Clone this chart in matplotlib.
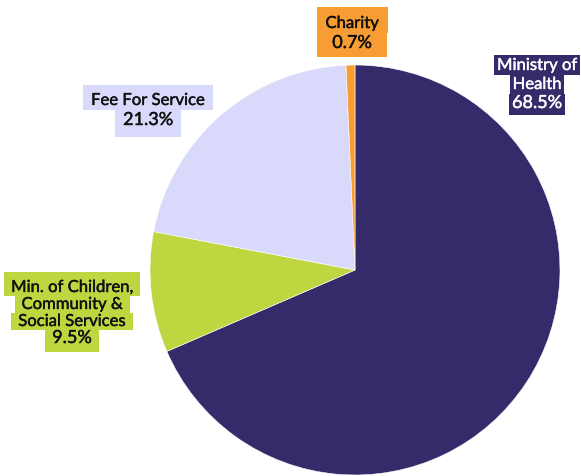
import matplotlib.pyplot as plt
import matplotlib.patheffects as pe
from matplotlib.patches import Rectangle

plt.rcParams['font.family'] = ['Lato', 'DejaVu Sans']

# 数据
labels = ['Ministry of Health', 'Min. of Children, Community & Social Services',
          'Fee For Service', 'Charity']
shares = [68.5, 9.5, 21.3, 0.7]
colors = ['#352b6b', '#bfd641', '#d9d9fc', '#f79d33']
text_colors = ['white', '#111111', '#111111', '#111111']

# 标签的行、位置 (像素坐标)、行距、内边距
label_lines = [['Ministry of', 'Health'],
               ['Min. of Children,', 'Community &', 'Social Services'],
               ['Fee For Service'],
               ['Charity']]
label_pos = [(537, 65), (72, 287), (148, 100), (352, 23)]
line_step = [19, 17, 20, 20]
pad_x = [3, 7, 8, 9]
pad_top = [10, 15, 15, 16]
pad_bottom = [12, 14, 17, 14]
min_width = [0, 0, 0, 70]

W, H = 581, 476
fig = plt.figure(figsize=(W / 100, H / 100), dpi=100)
ax = fig.add_axes([0, 0, 1, 1])

# y 轴翻转后角度方向也翻转
ax.pie(shares, colors=colors, startangle=-90, counterclock=True,
       center=(355, 270), radius=205,
       wedgeprops=dict(edgecolor='white', linewidth=0.4))
ax.set_xlim(0, W)
ax.set_ylim(H, 0)
ax.set_aspect('equal')
ax.axis('off')

renderer = fig.canvas.get_renderer()

# 每行单独画背景框
for k, (lines, (x, y)) in enumerate(zip(label_lines, label_pos)):
    rows = lines + [f'{shares[k]}%']
    n = len(rows)
    step = line_step[k]
    for i, row in enumerate(rows):
        cy = y + i * step
        fs = 13 if i == n - 1 else 12
        t = ax.text(x, cy, row, ha='center', va='center', fontsize=fs,
                    color=text_colors[k], zorder=5,
                    path_effects=[pe.withStroke(linewidth=0.3, foreground=text_colors[k])])
        w = t.get_window_extent(renderer).width
        w = max(w + 2 * pad_x[k], min_width[k])
        top = cy - step / 2 if i > 0 else cy - pad_top[k]
        bot = cy + step / 2 if i < n - 1 else cy + pad_bottom[k]
        ax.add_patch(Rectangle((x - w / 2, top), w, bot - top,
                               facecolor=colors[k], edgecolor='none', zorder=4))

fig.savefig('out.png', dpi=100)
plt.close(fig)
